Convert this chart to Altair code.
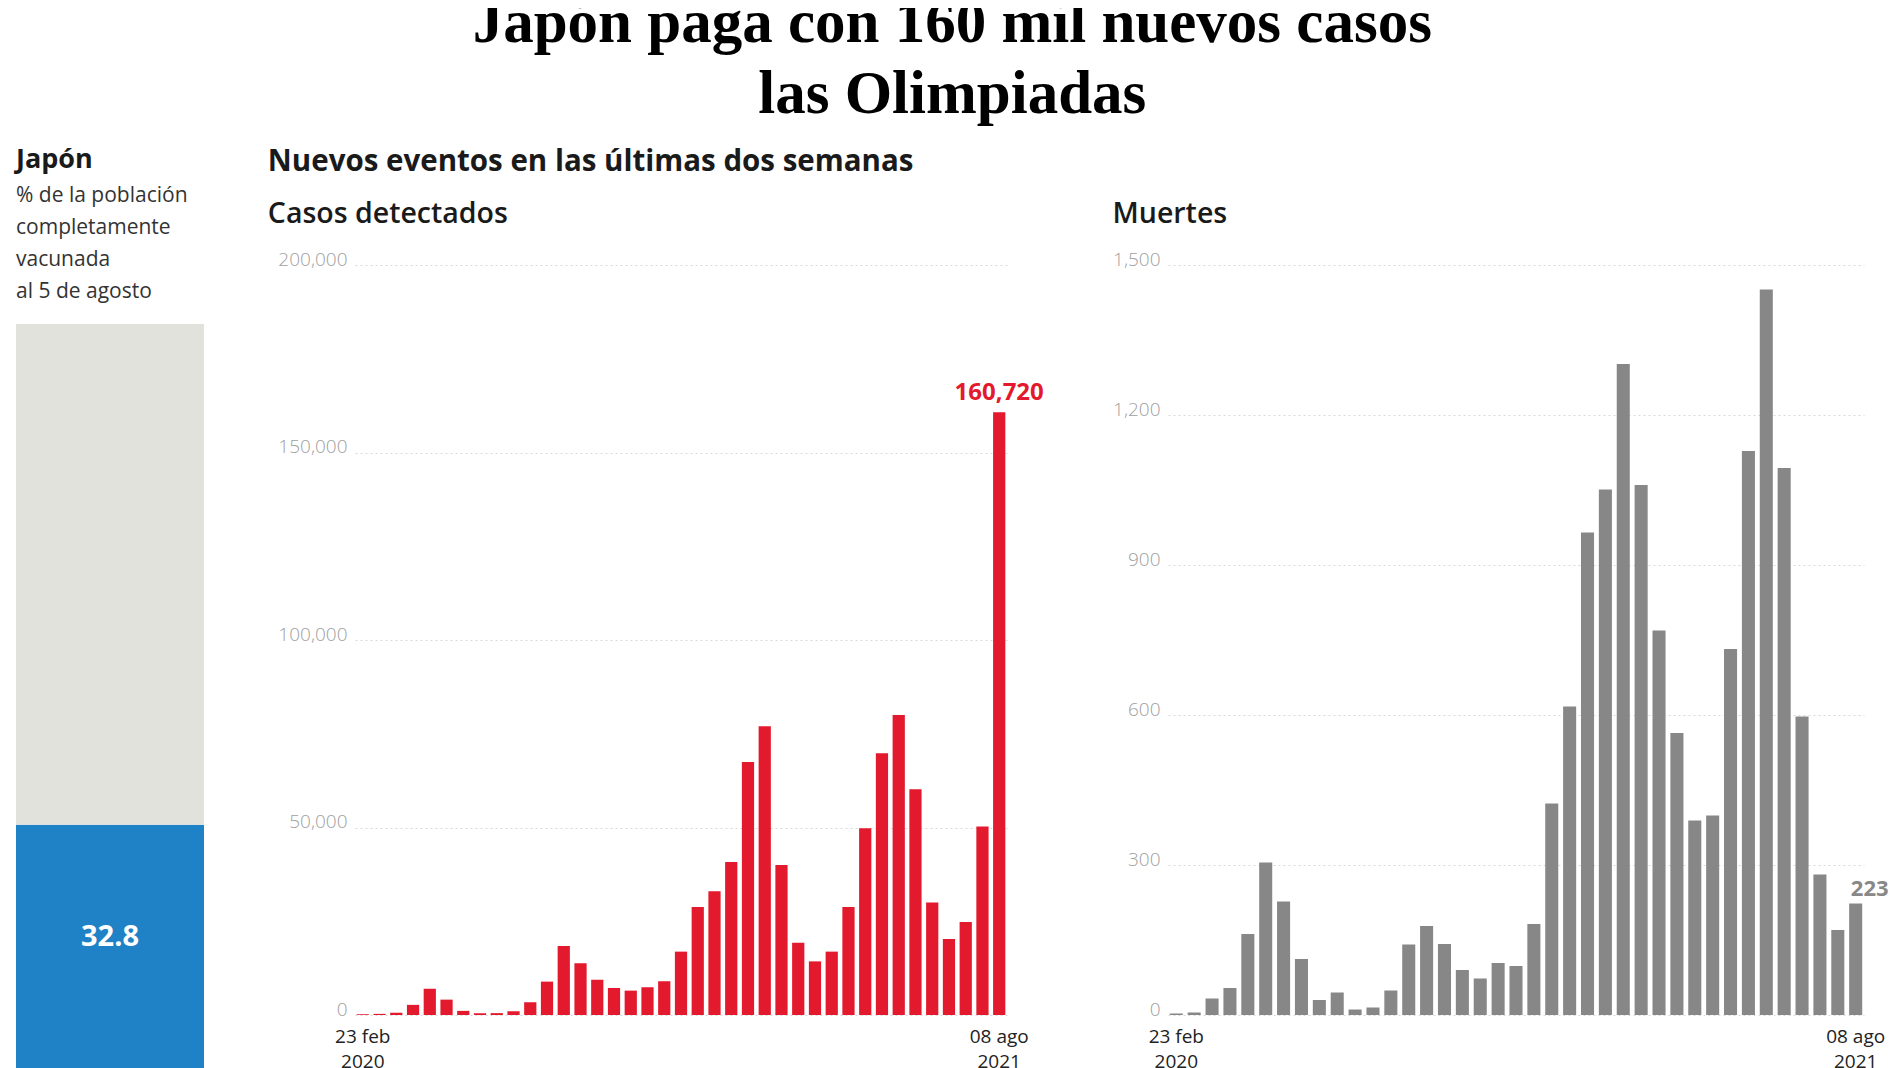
import altair as alt
import pandas as pd

# ---------------- data ----------------
title_lines = ["Japón paga con 160 mil nuevos casos", "las Olimpiadas"]
vacc_title = "Japón"
vacc_subtitle = ["% de la población", "completamente", "vacunada", "al 5 de agosto"]
vacc_segments = ["Completamente vacunada", "Resto"]
vacc_values = [32.8, 67.2]

events_title = "Nuevos eventos en las últimas dos semanas"
cases_title = "Casos detectados"
deaths_title = "Muertes"

periods = [d.strftime("%Y-%m-%d") for d in pd.date_range("2020-02-23", "2021-08-08", freq="14D")]
cases = [200, 300, 600, 2700, 7000, 4100, 1100, 500, 500, 1000,
         3400, 8900, 18400, 13800, 9400, 7200, 6500, 7400, 9000, 16900,
         28800, 33000, 40800, 67500, 77000, 40000, 19300, 14300, 16900, 28800,
         49800, 69800, 80000, 60200, 30000, 20300, 24800, 50300, 160720]
deaths = [3, 5, 33, 54, 162, 305, 227, 112, 30, 45,
          11, 15, 49, 141, 178, 142, 90, 73, 104, 98,
          182, 423, 617, 965, 1051, 1302, 1060, 769, 564, 389,
          399, 732, 1128, 1451, 1094, 597, 281, 170, 223]
x_tick_labels = {"2020-02-23": ["23 feb", "2020"], "2021-08-08": ["08 ago", "2021"]}
cases_ticks = [0, 50000, 100000, 150000, 200000]
deaths_ticks = [0, 300, 600, 900, 1200, 1500]

# ---------------- layout / style ----------------
FONT = "Open Sans"
RED = "#e3192d"
GREY = "#878787"
PANEL_H = 750
VACC_H = 804          # vaccination panel height (bar hangs lower than the bar panels)
VACC_BAR_H = 745      # pixel height that represents 100 %
vacc_top = 100 * VACC_H / VACC_BAR_H

# ---------------- vaccination panel ----------------
vdf = pd.DataFrame({"segment": vacc_segments, "value": vacc_values,
                    "order": [0, 1], "pais": [vacc_title] * 2})

vacc_base = alt.Chart(vdf)
vacc_bar = vacc_base.mark_bar().encode(
    x=alt.X("pais:N", axis=None, scale=alt.Scale(paddingInner=0, paddingOuter=0)),
    y=alt.Y("value:Q", stack="zero", axis=None,
            scale=alt.Scale(domain=[0, vacc_top], nice=False)),
    color=alt.Color("segment:N", legend=None,
                    scale=alt.Scale(domain=vacc_segments, range=["#1f81c6", "#e2e2dc"])),
    order=alt.Order("order:Q"),
)
vacc_label = vacc_base.transform_filter(
    alt.datum.order == 0
).transform_calculate(mid="datum.value / 2").mark_text(
    color="white", font=FONT, fontWeight="bold", fontSize=29, dy=-10
).encode(
    x=alt.X("pais:N"),
    y=alt.Y("mid:Q"),
    text=alt.Text("value:Q", format=".1f"),
)
vacc = alt.layer(vacc_bar, vacc_label).properties(
    width=188, height=VACC_H,
    title=alt.TitleParams(
        text=vacc_title, subtitle=vacc_subtitle, anchor="start",
        font=FONT, fontSize=27, fontWeight="bold", color="#1a1a1a",
        subtitleFont=FONT, subtitleFontSize=21, subtitleColor="#333333",
        subtitleLineHeight=32, subtitlePadding=11, offset=-38,
    ),
)

# ---------------- bar panels ----------------
label_expr = " : ".join(
    [f"datum.value == '{k}' ? {v!r}" for k, v in x_tick_labels.items()] + ["''"]
)


def panel(values, ticks, color, title, width, label_color, label_size, dx, dy, title_dx):
    df = pd.DataFrame({"period": periods, "value": values})
    x = alt.X(
        "period:O",
        scale=alt.Scale(paddingInner=0.27, paddingOuter=0.1),
        axis=alt.Axis(
            values=[periods[0], periods[-1]], labelExpr=label_expr, title=None,
            domain=False, ticks=False, labelAngle=0, labelPadding=12,
            labelFont=FONT, labelFontSize=19, labelColor="#222222",
            labelLineHeight=25, labelOverlap=False, labelBaseline="top",
        ),
    )
    y = alt.Y(
        "value:Q",
        scale=alt.Scale(domain=[ticks[0], ticks[-1]], nice=False),
        axis=alt.Axis(
            values=ticks, format=",.0f", title=None, domain=False, ticks=False,
            grid=True, gridDash=[2, 3], gridColor="#d9d9d9", gridWidth=1,
            labelFont=FONT, labelFontSize=19, labelColor="#a0a0a0",
            labelFontWeight=300, labelPadding=8, labelBaseline="alphabetic",
        ),
    )
    bars = alt.Chart(df).mark_bar(color=color).encode(x=x, y=y)
    last = alt.Chart(df).transform_filter(
        alt.datum.period == periods[-1]
    ).mark_text(
        font=FONT, fontWeight="bold", fontSize=label_size, color=label_color,
        dx=dx, dy=dy, baseline="middle",
    ).encode(x="period:O", y="value:Q", text=alt.Text("value:Q", format=","))
    return alt.layer(bars, last).properties(
        width=width, height=PANEL_H,
        title=alt.TitleParams(
            text=title, anchor="start", font=FONT, fontSize=28.5,
            fontWeight=600, color="#1a1a1a", offset=22, dx=title_dx,
        ),
    )


cases_chart = panel(cases, cases_ticks, RED, cases_title, 652, RED, 24, 0, -19, -10)
deaths_chart = panel(deaths, deaths_ticks, GREY, deaths_title, 696, "#888888", 22, 14, -15, 0)

events = alt.hconcat(cases_chart, deaths_chart, spacing=68).properties(
    title=alt.TitleParams(
        text=events_title, anchor="start", font=FONT, fontSize=29.5,
        fontWeight="bold", color="#1a1a1a", offset=22,
    )
)

chart = alt.hconcat(vacc, events, spacing=63).properties(
    title=alt.TitleParams(
        text=title_lines, anchor="middle", font="Liberation Serif", fontSize=61,
        fontWeight="bold", color="#000000", lineHeight=71, offset=20,
    ),
    padding={"left": 8, "top": -15, "right": 0, "bottom": 0},
    background="white",
).configure_view(stroke=None)

chart.save("out.html", embed_options={"renderer": "svg", "actions": False})
